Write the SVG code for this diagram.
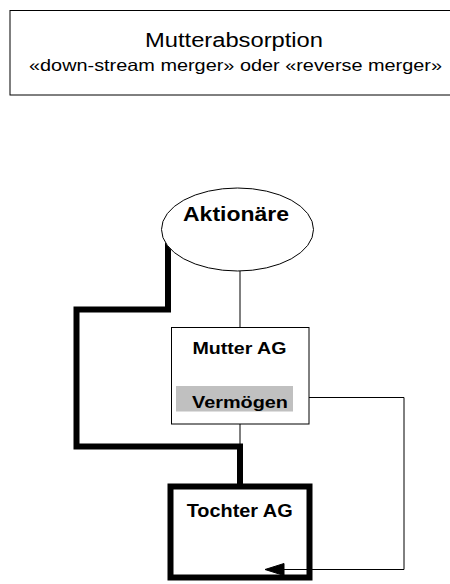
<svg xmlns="http://www.w3.org/2000/svg" width="450" height="584" viewBox="0 0 450 584">
  <style>
    .t { font-family: "Liberation Sans", Arial, sans-serif; fill: #000; text-anchor: middle; }
    .b { font-weight: bold; }
    .thin { fill: none; stroke: #000; stroke-width: 1; }
    .thick { fill: none; stroke: #000; stroke-width: 6; stroke-linejoin: miter; stroke-linecap: butt; }
    .head { fill: #000; stroke: #000; stroke-width: 1; stroke-linejoin: miter; }
  </style>
  <rect width="450" height="584" fill="#fff"/>

  <g id="header">
    <rect x="10" y="10.5" width="460" height="84.5" fill="#fff" stroke="#000" stroke-width="1"/>
    <text class="t" x="234" y="47" font-size="20" textLength="178" lengthAdjust="spacingAndGlyphs">Mutterabsorption</text>
    <text class="t" x="235.5" y="71" font-size="16.5" textLength="413" lengthAdjust="spacingAndGlyphs">«down-stream merger» oder «reverse merger»</text>
  </g>

  <g id="connectors">
    <path class="thin" d="M240,271 V327"/>
    <path class="thin" d="M240,424 V446"/>
    <path class="thick" d="M168,243 V309.5 H76.5 V446.5 H240 V484"/>
    <path class="thin" d="M293,397.5 H404 V569.5 H280"/>
    <path class="head" d="M265,569.5 L284,563.5 L284,575.5 Z"/>
  </g>

  <g id="aktionaere">
    <ellipse cx="237.5" cy="229.5" rx="76" ry="41.5" fill="#fff" stroke="#000" stroke-width="1"/>
    <text class="t b" x="236" y="221" font-size="21" textLength="106" lengthAdjust="spacingAndGlyphs">Aktionäre</text>
  </g>

  <g id="mutter">
    <rect x="171.5" y="327.5" width="137.5" height="96.5" fill="#fff" stroke="#000" stroke-width="1"/>
    <text class="t b" x="239.5" y="354" font-size="16" textLength="94" lengthAdjust="spacingAndGlyphs">Mutter AG</text>
    <g id="vermoegen">
      <rect x="176" y="386" width="117" height="25.5" fill="#c0c0c0"/>
      <text class="t b" x="240" y="408" font-size="16.5" textLength="96" lengthAdjust="spacingAndGlyphs">Vermögen</text>
    </g>
  </g>

  <g id="tochter">
    <rect x="170.5" y="486.5" width="139" height="91" fill="none" stroke="#000" stroke-width="6"/>
    <text class="t b" x="239.7" y="517" font-size="18.5" textLength="106" lengthAdjust="spacingAndGlyphs">Tochter AG</text>
  </g>
</svg>
